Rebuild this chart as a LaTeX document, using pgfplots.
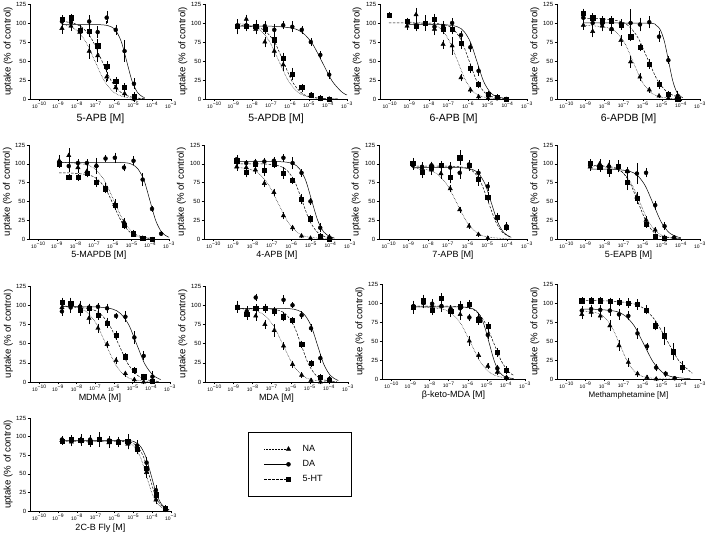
\documentclass[border=0pt]{standalone}
\usepackage{pgfplots}
\pgfplotsset{compat=1.18}
\usepackage{fontspec}
\setmainfont{Liberation Sans}
\newcommand{\tl}[1]{10\textsuperscript{#1}}
\pgfplotsset{
  panel/.style={
    scale only axis,
    axis lines*=left, axis line style={line width=0.5pt, -},
    xmin=-10.5, xmax=-3, ymin=0, ymax=125,
    xtick={-10,-9,-8,-7,-6,-5,-4,-3},
    xticklabels={\tl{−10},\tl{−9},\tl{−8},\tl{−7},\tl{−6},\tl{−5},\tl{−4},\tl{−3}},
    ytick={0,25,50,75,100,125},
    tick align=outside, tick pos=left,
    major tick length=2.5pt,
    every tick/.style={black, line width=0.5pt},
    /pgf/number format/assume math mode=true,
    yticklabel style={font=\fontsize{6}{7}\selectfont, inner sep=1.2pt},
    xticklabel style={font=\fontsize{5}{6}\selectfont, inner sep=0.8pt},
    ylabel={uptake (\% of control)},
    every axis y label/.style={at={(axis description cs:-0.155,0.5)}, rotate=90, anchor=center, font=\fontsize{9.6}{11}\selectfont},
    every axis x label/.style={at={(axis description cs:0.5,0)}, anchor=center, inner sep=0.5pt, font=\fontsize{9}{11}\selectfont},
    clip=false,
  },
  pt/.style={only marks, black, mark options={solid, fill=black},
    error bars/y dir=both, error bars/y explicit,
    error bars/error bar style={line width=0.4pt, solid, black},
    error bars/error mark options={black, line width=0.4pt, mark size=1.5pt}},
  ptNA/.style={pt, mark=triangle*, mark size=2.5pt},
  ptDA/.style={pt, mark=*, mark size=2pt},
  ptHT/.style={pt, mark=square*, mark size=2.1pt},
  cv/.style={no markers, black, line width=0.5pt, smooth, tension=0.5},
  cNA/.style={cv, densely dotted},
  cDA/.style={cv, solid},
  cHT/.style={cv, dash pattern=on 2.5pt off 1.5pt},
}
\begin{document}
\begin{tikzpicture}
\path[use as bounding box] (0,0) rectangle (709pt,535pt);

% ---------- Row 1 ----------
\begin{axis}[panel, at={(30pt,436pt)}, width=141pt, height=95pt, xlabel={5-APB [M]}, xlabel style={yshift=-20pt, font=\fontsize{10.5}{12}\selectfont}]
\addplot[ptNA] table[row sep=\\, y error index=2]{x y e\\ -8.8 93 5\\ -8.32 96 4\\ -7.85 88 8\\ -7.35 63 8\\ -6.9 57 6\\ -6.42 29 5\\ -5.94 15 4\\ -5.47 7 3\\ -4.97 0 2\\};
\addplot[ptHT] table[row sep=\\, y error index=2]{x y e\\ -8.8 105 3\\ -8.32 107 3\\ -7.85 91 4\\ -7.35 89 5\\ -6.9 70 7\\ -6.42 43 5\\ -5.94 23 4\\ -5.47 15 4\\ -4.97 4 3\\};
\addplot[ptDA] table[row sep=\\, y error index=2]{x y e\\ -8.8 102 4\\ -8.32 101 4\\ -7.85 90 5\\ -7.35 102 6\\ -6.9 88 6\\ -6.42 107 7\\ -5.94 91 5\\ -5.47 63 12\\ -4.97 20 5\\};
\addplot[cNA] coordinates {(-8.8,98.3)(-8.55,96.9)(-8.05,90.9)(-7.55,76.0)(-7.05,50)(-6.55,24.0)(-6.05,9.1)(-5.55,3.1)(-5.05,1.0)(-4.4,0.2)};
\addplot[cHT] coordinates {(-8.8,102.2)(-8.2,99.8)(-7.7,93.6)(-7.2,78.2)(-6.7,51.5)(-6.2,24.8)(-5.7,9.4)(-5.2,3.2)(-4.7,1.0)(-4.4,0.5)};
\addplot[cDA] coordinates {(-8.8,98)(-6.74,97.7)(-6.18,95.0)(-5.91,89.1)(-5.63,74.5)(-5.35,49)(-5.07,23.5)(-4.79,8.9)(-4.52,3.0)(-4.4,1.9)};
\end{axis}

\begin{axis}[panel, at={(205pt,436pt)}, width=142pt, height=95pt, xlabel={5-APDB [M]}, xlabel style={yshift=-20pt, font=\fontsize{10.5}{12}\selectfont}]
\addplot[ptNA] table[row sep=\\, y error index=2]{x y e\\ -8.79 95 8\\ -8.32 105 4\\ -7.82 92 5\\ -7.34 75 5\\ -6.84 63 6\\ -6.37 45 6\\ -5.89 33 6\\ -5.39 14 3\\ -4.91 5 2\\ -4.41 1 2\\ -3.94 0 1\\};
\addplot[ptHT] table[row sep=\\, y error index=2]{x y e\\ -8.79 96 7\\ -8.32 96 5\\ -7.82 96 6\\ -7.34 92 5\\ -6.84 78 6\\ -6.37 54 5\\ -5.89 33 5\\ -5.39 15 3\\ -4.91 5 2\\ -4.41 1 1\\ -3.94 0 1\\};
\addplot[ptDA] table[row sep=\\, y error index=2]{x y e\\ -8.79 97 6\\ -8.32 97 5\\ -7.82 96 5\\ -7.34 96 4\\ -6.84 91 6\\ -6.37 97 3\\ -5.89 95 5\\ -5.39 91 3\\ -4.91 75 3\\ -4.41 58 3\\ -3.94 32 4\\};
\addplot[cNA] coordinates {(-8.79,99.4)(-8.1,96.9)(-7.6,90.9)(-7.1,76.0)(-6.6,50)(-6.1,24.0)(-5.6,9.1)(-5.1,3.1)(-4.6,1.0)(-4.1,0.3)(-3.5,0.1)};
\addplot[cHT] coordinates {(-8.79,97)(-7.71,94.0)(-7.26,88.2)(-6.8,73.7)(-6.35,48.5)(-5.9,23.3)(-5.44,8.8)(-4.99,3.0)(-4.08,0.3)(-3.5,0.1)};
\addplot[cDA] coordinates {(-8.79,96)(-6.93,95.7)(-5.88,93.1)(-5.35,87.3)(-4.83,72.9)(-4.3,48)(-3.77,23.1)(-3.25,8.7)(-3,5.3)};
\end{axis}

\begin{axis}[panel, at={(380pt,436pt)}, width=147pt, height=95pt, xlabel={6-APB [M]}, xlabel style={yshift=-20pt, font=\fontsize{10.5}{12}\selectfont}]
\addplot[ptNA] table[row sep=\\, y error index=2]{x y e\\ -9.12 96 3\\ -8.66 111 7\\ -8.18 98 5\\ -7.72 92 6\\ -7.28 72 4\\ -6.82 70 10\\ -6.37 28 3\\ -5.89 12 2\\ -5.47 3 1\\ -4.99 1 1\\};
\addplot[ptHT] table[row sep=\\, y error index=2]{x y e\\ -10.05 110 2\\ -9.12 102 3\\ -8.66 96 5\\ -8.18 100 8\\ -7.72 105 5\\ -7.28 92 5\\ -6.82 92 5\\ -6.37 73 5\\ -5.89 40 4\\ -5.47 19 3\\ -4.99 6 2\\ -4.53 2 2\\ -4.06 0 1\\};
\addplot[ptDA] table[row sep=\\, y error index=2]{x y e\\ -8.66 97 4\\ -8.18 99 6\\ -7.72 95 5\\ -7.28 96 4\\ -6.82 100 4\\ -6.37 84 4\\ -5.89 68 4\\ -5.47 37 5\\ -4.99 5 2\\ -4.53 1 1\\ -4.06 0 1\\};
\addplot[cNA] coordinates {(-9.12,101)(-8.63,100.7)(-7.8,97.9)(-7.38,91.8)(-6.97,76.7)(-6.55,50.5)(-6.13,24.3)(-5.72,9.2)(-5.3,3.1)(-4.47,0.3)(-4,0.1)};
\addplot[cHT] coordinates {(-10.05,100)(-7.87,99.7)(-7.1,97)(-6.72,90.9)(-6.33,76)(-5.95,50)(-5.57,24)(-5.18,9.1)(-4.8,3.1)(-4,0.3)};
\addplot[cDA] coordinates {(-9.12,98)(-7.22,97.7)(-6.55,95)(-6.22,89.1)(-5.88,74.5)(-5.55,49)(-5.22,23.5)(-4.88,8.9)(-4.55,3.0)(-4,0.5)};
\end{axis}

\begin{axis}[panel, at={(557pt,436pt)}, width=143pt, height=95pt, xlabel={6-APDB [M]}, xlabel style={yshift=-20pt, font=\fontsize{10.5}{12}\selectfont}]
\addplot[ptNA] table[row sep=\\, y error index=2]{x y e\\ -9.12 97 4\\ -8.63 89 6\\ -8.13 96 5\\ -7.64 92 4\\ -7.15 77 5\\ -6.64 49 6\\ -6.15 29 3\\ -5.66 12 2\\ -5.15 4 1\\ -4.66 1 1\\};
\addplot[ptHT] table[row sep=\\, y error index=2]{x y e\\ -9.12 113 4\\ -8.63 107 4\\ -8.13 103 4\\ -7.64 103 4\\ -7.15 97 4\\ -6.64 82 4\\ -6.15 68 3\\ -5.66 46 4\\ -5.15 19 4\\ -4.66 6 3\\ -4.17 0 2\\};
\addplot[ptDA] table[row sep=\\, y error index=2]{x y e\\ -9.12 107 5\\ -8.63 100 4\\ -8.13 99 4\\ -7.64 92 4\\ -7.15 99 4\\ -6.64 100 16\\ -6.15 98 7\\ -5.66 101 6\\ -5.15 82 5\\ -4.66 51 3\\ -4.17 4 5\\};
\addplot[cNA] coordinates {(-9.12,97)(-8.77,96.7)(-7.86,94.0)(-7.41,88.2)(-6.95,73.7)(-6.5,48.5)(-6.05,23.3)(-5.59,8.8)(-5.14,3.0)(-4.23,0.3)(-4,0.2)};
\addplot[cHT] coordinates {(-9.12,106)(-8.25,105.7)(-7.25,102.7)(-6.75,96.4)(-6.25,80.5)(-5.75,53)(-5.25,25.5)(-4.75,9.6)(-4.25,3.3)(-4,1.9)};
\addplot[cDA] coordinates {(-9.12,100)(-5.74,99.7)(-5.3,96.9)(-5.08,90.9)(-4.87,76)(-4.65,50)(-4.43,24)(-4.22,9.1)(-4.0,3.1)(-3.9,1.9)};
\end{axis}

% ---------- Row 2 ----------
\begin{axis}[panel, at={(29pt,296pt)}, width=140pt, height=94pt, xlabel={5-MAPDB [M]}, xlabel style={yshift=-16pt}]
\addplot[ptNA] table[row sep=\\, y error index=2]{x y e\\ -8.88 104 6\\ -8.37 111 8\\ -7.88 95 5\\ -7.40 90 6\\ -6.89 98 8\\ -6.40 68 5\\ -5.90 46 5\\ -5.41 23 3\\ -4.90 8 2\\ -4.41 1 1\\};
\addplot[ptHT] table[row sep=\\, y error index=2]{x y e\\ -8.88 100 3\\ -8.37 82 2\\ -7.88 82 3\\ -7.40 88 4\\ -6.89 76 5\\ -6.40 67 4\\ -5.90 45 4\\ -5.41 18 3\\ -4.90 7 2\\ -4.41 1 1\\ -3.91 0 1\\};
\addplot[ptDA] table[row sep=\\, y error index=2]{x y e\\ -8.88 102 5\\ -8.37 97 6\\ -7.88 101 3\\ -7.40 101 3\\ -6.89 97 8\\ -6.40 107 3\\ -5.90 108 5\\ -5.41 95 3\\ -4.90 104 4\\ -4.41 79 7\\ -3.91 40 2\\ -3.42 7 1\\};
\addplot[cNA] coordinates {(-8.88,101.9)(-8.45,101.7)(-7.45,98.9)(-6.95,92.7)(-6.45,77.5)(-5.95,51)(-5.45,24.5)(-4.95,9.3)(-4.45,3.1)(-3.9,0.9)};
\addplot[cHT] coordinates {(-8.88,88)(-8.22,87.7)(-7.31,85.3)(-6.86,80)(-6.4,66.9)(-5.95,44)(-5.5,21.1)(-5.04,8.0)(-4.59,2.7)(-3.9,0.5)};
\addplot[cDA] coordinates {(-8.88,102)(-5.58,101.7)(-4.96,98.9)(-4.65,92.7)(-4.33,77.5)(-4.02,51)(-3.71,24.5)(-3.4,9.3)(-3.08,3.1)(-3,2.3)};
\end{axis}

\begin{axis}[panel, at={(204pt,296pt)}, width=146pt, height=94pt, xlabel={4-APB [M]}, xlabel style={yshift=-16pt}]
\addplot[ptNA] table[row sep=\\, y error index=2]{x y e\\ -8.82 96 3\\ -8.33 95 3\\ -7.86 92 3\\ -7.40 74 3\\ -6.91 62 3\\ -6.42 31 3\\ -5.95 15 2\\ -5.49 4 1\\ -5.03 1 1\\};
\addplot[ptHT] table[row sep=\\, y error index=2]{x y e\\ -8.82 104 4\\ -8.33 89 5\\ -7.86 99 3\\ -7.40 92 6\\ -6.91 100 3\\ -6.42 88 6\\ -5.95 78 3\\ -5.49 53 5\\ -5.03 27 3\\ -4.53 4 2\\ -4.06 0 1\\};
\addplot[ptDA] table[row sep=\\, y error index=2]{x y e\\ -8.82 106 4\\ -8.33 101 2\\ -7.86 102 3\\ -7.40 103 3\\ -6.91 104 3\\ -6.42 108 3\\ -5.95 101 6\\ -5.49 88 3\\ -5.03 50 3\\ -4.53 15 4\\ -4.06 2 2\\};
\addplot[cNA] coordinates {(-8.82,95.3)(-8.2,93.1)(-7.7,87.3)(-7.2,72.9)(-6.7,48)(-6.2,23.1)(-5.7,8.7)(-5.2,2.9)(-4.2,0.3)(-3.8,0.1)};
\addplot[cHT] coordinates {(-8.82,100)(-7.37,99.7)(-6.6,96.9)(-6.22,90.9)(-5.83,76)(-5.45,50)(-5.07,24)(-4.68,9.1)(-4.3,3.1)(-3.8,0.7)};
\addplot[cDA] coordinates {(-8.82,103)(-6.53,102.7)(-5.91,99.8)(-5.6,93.6)(-5.28,78.2)(-4.97,51.5)(-4.66,24.8)(-4.35,9.4)(-4.03,3.2)(-3.8,1.4)};
\end{axis}

\begin{axis}[panel, at={(379pt,296pt)}, width=148pt, height=94pt, xlabel={7-APB [M]}, xlabel style={yshift=-16pt}]
\addplot[ptNA] table[row sep=\\, y error index=2]{x y e\\ -8.79 99 5\\ -8.32 94 5\\ -7.84 92 5\\ -7.36 87 5\\ -6.89 67 3\\ -6.41 39 2\\ -5.94 17 2\\ -5.46 6 1\\ -4.99 1 1\\};
\addplot[ptHT] table[row sep=\\, y error index=2]{x y e\\ -8.79 101 5\\ -8.32 89 6\\ -7.84 95 6\\ -7.36 98 4\\ -6.89 82 6\\ -6.41 108 8\\ -5.94 98 5\\ -5.46 80 7\\ -4.99 56 5\\ -4.53 29 4\\ -4.04 16 3\\};
\addplot[ptDA] table[row sep=\\, y error index=2]{x y e\\ -8.79 98 4\\ -8.32 96 4\\ -7.84 98 3\\ -7.36 97 4\\ -6.89 95 5\\ -6.41 88 6\\ -5.94 99 4\\ -5.46 88 3\\ -4.99 70 4\\ -4.53 28 4\\ -4.04 17 3\\};
\addplot[cNA] coordinates {(-8.79,94.5)(-8.05,92.1)(-7.55,86.4)(-7.05,72.2)(-6.55,47.5)(-6.05,22.8)(-5.55,8.6)(-5.05,2.9)(-4.05,0.3)(-3.8,0.2)};
\addplot[cHT] coordinates {(-8.79,97)(-6.74,96.7)(-6.02,94.0)(-5.66,88.2)(-5.31,73.7)(-4.95,48.5)(-4.59,23.3)(-4.24,8.8)(-3.88,3.0)(-3.8,2.3)};
\addplot[cDA] coordinates {(-8.79,95)(-6.36,94.7)(-5.74,92.1)(-5.43,86.4)(-5.11,72.2)(-4.8,47.5)(-4.49,22.8)(-4.18,8.6)(-3.86,2.9)(-3.8,2.3)};
\end{axis}

\begin{axis}[panel, at={(557pt,296pt)}, width=143pt, height=94pt, xlabel={5-EAPB [M]}, xlabel style={yshift=-16pt}]
\addplot[ptNA] table[row sep=\\, y error index=2]{x y e\\ -8.76 96 3\\ -8.26 100 4\\ -7.78 98 5\\ -7.30 96 5\\ -6.81 90 4\\ -6.31 56 5\\ -5.83 25 3\\ -5.35 12 2\\ -4.86 2 1\\};
\addplot[ptHT] table[row sep=\\, y error index=2]{x y e\\ -8.76 101 3\\ -8.26 96 5\\ -7.78 90 5\\ -7.30 97 6\\ -6.81 76 9\\ -6.31 54 5\\ -5.83 20 3\\ -5.35 3 2\\ -4.86 1 1\\};
\addplot[ptDA] table[row sep=\\, y error index=2]{x y e\\ -8.76 98 3\\ -8.26 95 3\\ -7.78 96 3\\ -7.30 95 4\\ -6.81 90 4\\ -6.31 87 12\\ -5.83 88 4\\ -5.35 45 4\\ -4.86 17 3\\ -4.36 2 1\\};
\addplot[cNA] coordinates {(-8.76,96.9)(-8.42,96.7)(-7.51,94.0)(-7.06,88.2)(-6.6,73.7)(-6.15,48.5)(-5.7,23.3)(-5.24,8.8)(-4.79,3.0)(-4.0,0.4)};
\addplot[cHT] coordinates {(-8.76,98)(-8.33,97.7)(-7.5,95.0)(-7.08,89.1)(-6.67,74.5)(-6.25,49)(-5.83,23.5)(-5.42,8.9)(-5.0,3.0)(-4.0,0.2)};
\addplot[cDA] coordinates {(-8.76,93)(-7.53,92.7)(-6.7,90.1)(-6.28,84.5)(-5.87,70.7)(-5.45,46.5)(-5.03,22.3)(-4.62,8.5)(-4.2,2.9)(-4.0,1.7)};
\end{axis}

% ---------- Row 3 ----------
\begin{axis}[panel, at={(30pt,153pt)}, width=140pt, height=96pt, xlabel={MDMA [M]}, xlabel style={yshift=-16pt}]
\addplot[ptNA] table[row sep=\\, y error index=2]{x y e\\ -8.79 97 5\\ -8.32 100 4\\ -7.82 99 5\\ -7.34 83 6\\ -6.86 70 4\\ -6.37 49 3\\ -5.89 28 3\\ -5.39 11 2\\ -4.91 3 1\\ -4.41 0 1\\};
\addplot[ptHT] table[row sep=\\, y error index=2]{x y e\\ -8.79 104 4\\ -8.32 103 5\\ -7.82 93 5\\ -7.34 96 4\\ -6.86 87 4\\ -6.37 77 5\\ -5.89 61 4\\ -5.39 33 3\\ -4.91 15 2\\ -4.41 7 2\\ -3.94 1 1\\};
\addplot[ptDA] table[row sep=\\, y error index=2]{x y e\\ -8.79 92 4\\ -8.32 97 5\\ -7.82 98 5\\ -7.34 97 3\\ -6.86 98 3\\ -6.37 96 4\\ -5.89 86 2\\ -5.39 85 5\\ -4.91 58 6\\ -4.41 34 4\\ -3.94 7 5\\};
\addplot[cNA] coordinates {(-8.79,99.5)(-7.95,96.9)(-7.45,90.9)(-6.95,76.0)(-6.45,50)(-5.95,24.0)(-5.45,9.1)(-4.95,3.1)(-3.95,0.3)(-3.6,0.1)};
\addplot[cHT] coordinates {(-8.79,98)(-8.25,97.7)(-7.25,95.0)(-6.75,89.1)(-6.25,74.5)(-5.75,49)(-5.25,23.5)(-4.75,8.9)(-4.25,3.0)(-3.6,0.7)};
\addplot[cDA] coordinates {(-8.79,98)(-6.95,97.7)(-6.08,95.0)(-5.65,89.1)(-5.21,74.5)(-4.78,49)(-4.35,23.5)(-3.91,8.9)(-3.5,3.2)};
\end{axis}

\begin{axis}[panel, at={(205pt,153pt)}, width=143pt, height=96pt, xlabel={MDA [M]}, xlabel style={yshift=-16pt}]
\addplot[ptNA] table[row sep=\\, y error index=2]{x y e\\ -8.80 97 4\\ -8.31 88 5\\ -7.84 86 4\\ -7.36 75 4\\ -6.87 67 6\\ -6.38 47 3\\ -5.91 23 3\\ -5.43 9 2\\ -4.94 2 1\\ -4.45 0 1\\};
\addplot[ptHT] table[row sep=\\, y error index=2]{x y e\\ -8.80 97 3\\ -8.31 88 4\\ -7.84 96 3\\ -7.36 96 3\\ -6.87 92 4\\ -6.38 85 4\\ -5.91 80 3\\ -5.43 49 3\\ -4.94 24 3\\ -4.45 6 2\\ -3.97 2 1\\};
\addplot[ptDA] table[row sep=\\, y error index=2]{x y e\\ -8.80 98 6\\ -8.31 92 5\\ -7.84 110 3\\ -7.36 96 4\\ -6.87 93 3\\ -6.38 107 4\\ -5.91 100 2\\ -5.43 87 3\\ -4.94 70 3\\ -4.45 31 4\\ -3.97 4 2\\};
\addplot[cNA] coordinates {(-8.8,95.6)(-7.9,93.1)(-7.4,87.3)(-6.9,72.9)(-6.4,48)(-5.9,23.1)(-5.4,8.7)(-4.9,2.9)(-3.9,0.3)(-3.6,0.2)};
\addplot[cHT] coordinates {(-8.8,96)(-7.37,95.7)(-6.6,93.1)(-6.22,87.3)(-5.83,72.9)(-5.45,48)(-5.07,23.1)(-4.68,8.7)(-4.3,2.9)(-3.6,0.4)};
\addplot[cDA] coordinates {(-8.8,96)(-6.27,95.7)(-5.6,93.1)(-5.27,87.3)(-4.93,72.9)(-4.6,48)(-4.27,23.1)(-3.93,8.7)(-3.6,2.9)(-3.5,2.1)};
\end{axis}

\begin{axis}[panel, at={(382pt,156pt)}, width=143pt, height=95pt, xlabel={β-keto-MDA [M]}, xlabel style={yshift=-16pt}]
\addplot[ptNA] table[row sep=\\, y error index=2]{x y e\\ -8.85 93 5\\ -8.32 100 4\\ -7.87 96 5\\ -7.38 96 6\\ -6.90 90 5\\ -6.40 85 5\\ -5.92 50 4\\ -5.43 31 3\\ -4.95 17 2\\ -4.45 9 2\\ -3.97 2 1\\};
\addplot[ptHT] table[row sep=\\, y error index=2]{x y e\\ -8.85 94 6\\ -8.32 103 6\\ -7.87 90 4\\ -7.38 106 5\\ -6.90 89 5\\ -6.40 96 5\\ -5.92 98 4\\ -5.43 78 5\\ -4.95 69 4\\ -4.45 35 4\\ -3.97 12 3\\};
\addplot[ptDA] table[row sep=\\, y error index=2]{x y e\\ -8.85 96 5\\ -8.32 100 5\\ -7.87 99 4\\ -7.38 96 4\\ -6.90 92 4\\ -6.40 93 4\\ -5.92 81 3\\ -5.43 80 5\\ -4.95 58 4\\ -4.45 14 3\\ -3.97 1 1\\};
\addplot[cNA] coordinates {(-8.85,94.9)(-8.35,94.7)(-7.35,92.1)(-6.85,86.4)(-6.35,72.2)(-5.85,47.5)(-5.35,22.8)(-4.85,8.6)(-4.35,2.9)(-3.6,0.5)};
\addplot[cHT] coordinates {(-8.85,96)(-6.73,95.7)(-5.9,93.1)(-5.48,87.3)(-5.07,72.9)(-4.65,48)(-4.23,23.1)(-3.82,8.7)(-3.6,5.0)};
\addplot[cDA] coordinates {(-8.85,95)(-6.27,94.7)(-5.71,92.1)(-5.44,86.4)(-5.16,72.2)(-4.88,47.5)(-4.6,22.8)(-4.32,8.6)(-4.05,2.9)(-3.6,0.5)};
\end{axis}

\begin{axis}[panel, at={(557pt,156pt)}, width=143pt, height=95pt, xlabel={Methamphetamine [M]}, xlabel style={yshift=-16pt, font=\fontsize{8}{10}\selectfont}]
\addplot[ptNA] table[row sep=\\, y error index=2]{x y e\\ -9.20 85 4\\ -8.71 88 5\\ -8.23 83 4\\ -7.73 70 5\\ -7.25 44 5\\ -6.76 22 4\\ -6.28 7 2\\ -5.78 2 1\\ -5.30 0 1\\};
\addplot[ptHT] table[row sep=\\, y error index=2]{x y e\\ -9.20 103 3\\ -8.71 103 3\\ -8.23 103 3\\ -7.73 102 3\\ -7.25 101 3\\ -6.76 100 4\\ -6.28 98 5\\ -5.83 91 4\\ -5.34 70 4\\ -4.86 57 10\\ -4.41 36 9\\ -3.94 16 6\\};
\addplot[ptDA] table[row sep=\\, y error index=2]{x y e\\ -9.20 90 4\\ -8.71 92 4\\ -8.23 91 4\\ -7.73 90 5\\ -7.25 85 5\\ -6.76 83 4\\ -6.28 60 5\\ -5.78 43 3\\ -5.30 15 3\\ -4.80 7 2\\ -4.33 1 1\\};
\addplot[cNA] coordinates {(-9.2,89.6)(-8.45,87.2)(-8.03,81.8)(-7.62,68.4)(-7.2,45)(-6.78,21.6)(-6.37,8.2)(-5.95,2.8)(-5.12,0.3)(-4.3,0.1)};
\addplot[cDA] coordinates {(-9.2,92)(-8.45,91.7)(-7.45,89.2)(-6.95,83.6)(-6.45,69.9)(-5.95,46)(-5.45,22.1)(-4.95,8.4)(-4.45,2.8)(-3.5,0.3)};
\addplot[cHT] coordinates {(-9.2,103)(-7.88,102.7)(-6.63,99.8)(-6.0,93.6)(-5.38,78.2)(-4.75,51.5)(-4.13,24.8)(-3.5,9.4)(-3.4,7.9)};
\end{axis}

% ---------- Row 4 ----------
\begin{axis}[panel, at={(30pt,24pt)}, width=141pt, height=93pt, xlabel={2C-B Fly [M]}, xlabel style={yshift=-17pt},
  legend image code/.code={\draw[#1, mark repeat=2, mark phase=2] plot coordinates {(0pt,0pt) (24pt,0pt)};},
  legend cell align=left,
  legend style={at={(axis description cs:1.546,0.849)}, anchor=north west, draw=black, line width=0.5pt, fill=white,
    font=\fontsize{9}{10.8}\selectfont, inner xsep=16pt, inner ysep=11pt, row sep=3.5pt},
  legend entries={\hspace*{10pt}NA\hspace*{18pt}, \hspace*{10pt}DA, \hspace*{10pt}5-HT}]
\addlegendimage{black, densely dotted, line width=0.5pt, mark=triangle*, mark size=2.5pt, mark options={solid, fill=black}}
\addlegendimage{black, solid, line width=0.5pt, mark=*, mark size=2pt, mark options={solid, fill=black}}
\addlegendimage{black, dash pattern=on 2.5pt off 1.5pt, line width=0.5pt, mark=square*, mark size=2.1pt, mark options={solid, fill=black}}
\addplot[ptNA] table[row sep=\\, y error index=2]{x y e\\ -8.8 95 3\\ -8.3 93 4\\ -7.8 96 5\\ -7.3 94 4\\ -6.8 95 5\\ -6.3 92 5\\ -5.8 93 4\\ -5.3 90 5\\ -4.8 85 5\\ -4.3 52 6\\ -3.8 15 4\\ -3.3 2 2\\};
\addplot[ptHT] table[row sep=\\, y error index=2]{x y e\\ -8.8 94 3\\ -8.3 96 4\\ -7.8 95 4\\ -7.3 93 5\\ -6.8 96 8\\ -6.3 94 4\\ -5.8 92 4\\ -5.3 94 5\\ -4.8 83 5\\ -4.3 58 6\\ -3.8 22 5\\ -3.3 3 2\\};
\addplot[ptDA] table[row sep=\\, y error index=2]{x y e\\ -8.8 96 3\\ -8.3 95 4\\ -7.8 94 4\\ -7.3 96 4\\ -6.8 97 6\\ -6.3 95 4\\ -5.8 94 4\\ -5.3 93 8\\ -4.8 88 5\\ -4.3 65 6\\ -3.8 28 5\\ -3.3 4 2\\};
\addplot[cNA] coordinates {(-8.8,94)(-5.86,93.7)(-5.24,91.1)(-4.93,85.5)(-4.61,71.4)(-4.3,47)(-3.99,22.6)(-3.68,8.5)(-3.36,2.9)(-3.1,1.1)};
\addplot[cHT] coordinates {(-8.8,94)(-5.62,93.7)(-5.03,91.1)(-4.74,85.5)(-4.44,71.4)(-4.15,47)(-3.86,22.6)(-3.56,8.5)(-3.27,2.9)(-3.1,1.5)};
\addplot[cDA] coordinates {(-8.8,95)(-5.44,94.7)(-4.88,92.1)(-4.61,86.4)(-4.33,72.2)(-4.05,47.5)(-3.77,22.8)(-3.49,8.6)(-3.22,2.9)(-3.1,1.8)};
\end{axis}
\end{tikzpicture}
\end{document}
